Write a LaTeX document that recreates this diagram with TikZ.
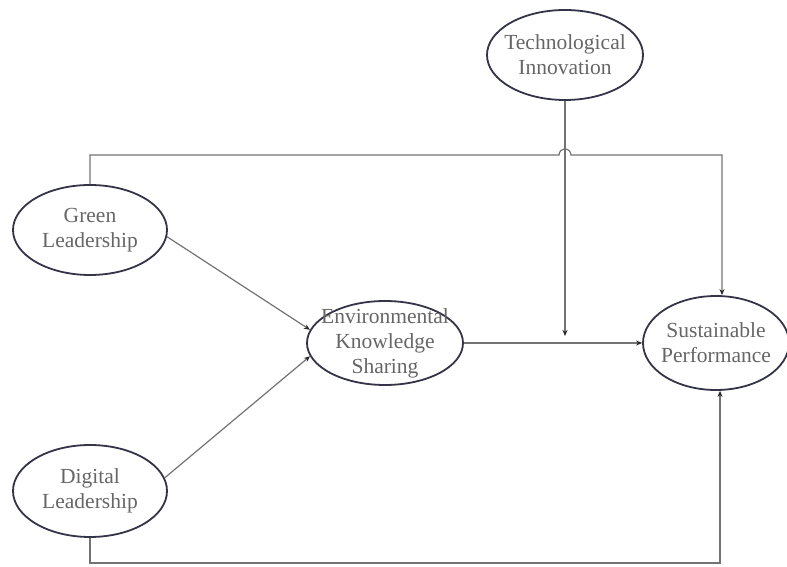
\documentclass[tikz,border=0pt]{standalone}
\usepackage{fontspec}
\setmainfont{Liberation Serif}
\usetikzlibrary{arrows.meta,shapes.geometric}
\definecolor{rim}{RGB}{52,52,72}
\begin{document}
\begin{tikzpicture}[x=1pt,y=1pt,
  construct/.style={ellipse, draw=rim, line width=1.8pt, fill=white,
    text=black!60, align=center, inner xsep=-12pt, inner ysep=-6pt,
    font=\fontsize{21.5}{25}\selectfont},
  effect/.style={draw=black!55, line width=1.2pt, -{Stealth[length=6pt,width=5pt,color=black!85]}}]
\useasboundingbox (0,0) rectangle (787,567);
\node[construct, minimum width=156, minimum height=90] (ti) at (565,512) {Technological\\Innovation};
\node[construct, minimum width=154, minimum height=90] (gl) at (90,337) {Green\\Leadership};
\node[construct, minimum width=154, minimum height=92] (dl) at (90,76) {Digital\\Leadership};
\node[construct, minimum width=156, minimum height=84] (eks) at (385,224) {Environmental\\Knowledge\\Sharing};
\node[construct, minimum width=146, minimum height=94] (sp) at (716,224) {Sustainable\\Performance};
\coordinate (hop) at (ti.south |- 0,412);
\coordinate (mod) at (ti.south |- eks.east);
\coordinate (spt) at ([xshift=6pt]sp.north);
\coordinate (spb) at ([xshift=4pt]sp.south);
% direct paths
\draw[effect] (gl.-5) -- (eks.170);
\draw[effect] (dl.10) -- (eks.190);
\draw[effect] (eks.east) -- (sp.west);
% moderator
\draw[effect, shorten >=7pt] (ti.south) -- (mod);
% long paths
\draw[effect] (gl.north) |- ([xshift=-6pt]hop) arc (180:0:6) -| (spt);
\draw[effect] (dl.south) |- (spb |- 0,4) -- (spb);
\end{tikzpicture}
\end{document}
